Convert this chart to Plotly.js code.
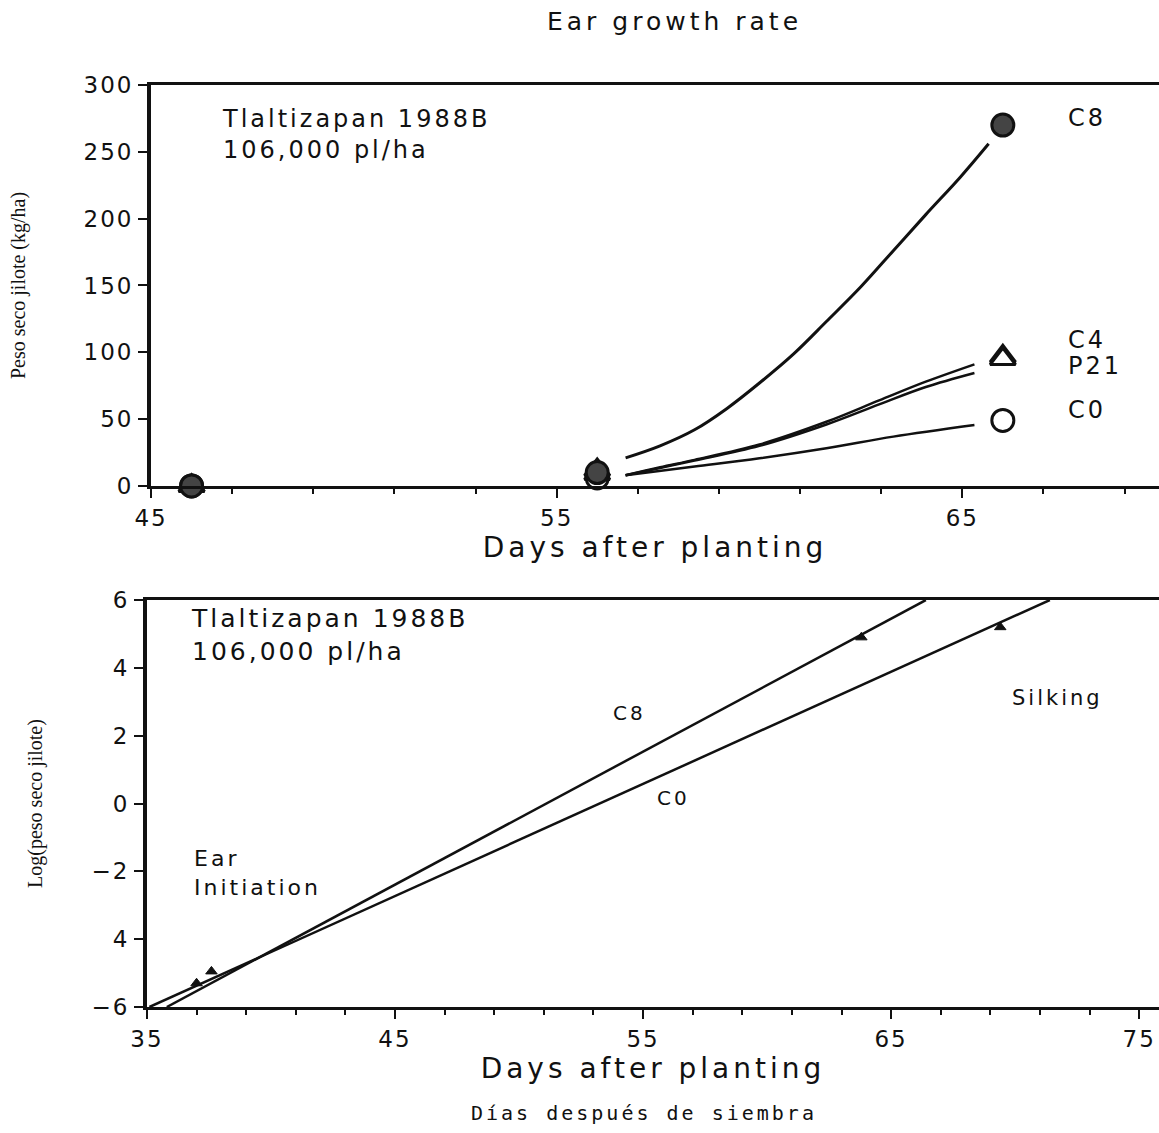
<!DOCTYPE html>
<html>
<head>
<meta charset="utf-8">
<script src="https://cdn.plot.ly/plotly-3.0.1.min.js"></script>
<style>
  html, body { margin: 0; padding: 0; background: #fff; }
  #chart { width: 1159px; height: 1133px; }
  .gtitle { letter-spacing: 4px; }
  .annotation-text { letter-spacing: 3px; }
  .xtitle, .x2title { letter-spacing: 4px; }
  .xaxislayer-above text, .yaxislayer-above text { letter-spacing: 2px; }
</style>
</head>
<body>
<div id="chart"></div>
<script>
// ---------- Top panel: ear dry weight (kg/ha) ----------
const obsDays = [46, 56, 66];
const c8Obs = [0, 10, 270];
const c4Obs = [0, 12, 97];
const p21Obs = [0, 9, 95];
const c0Obs = [0, 6, 49];

const c8FitDays = [56.7, 57.55, 58.4, 59.2, 60.0, 60.85, 61.65, 62.5, 63.3, 64.1, 64.95, 65.65];
const c8Fit = [21, 30, 42, 58, 77, 99, 123, 149, 176, 203, 231, 256];
const c4FitDays = [56.7, 57.55, 58.4, 60.0, 61.65, 62.95, 64.1, 65.3];
const c4Fit = [8, 14, 19.5, 31, 48, 64, 78, 91];
const p21Fit = [8, 13.5, 19, 30, 46, 61, 74, 84.5];
const c0FitDays = [56.7, 58.4, 60.0, 61.65, 63.3, 65.3];
const c0Fit = [8, 14.5, 20.7, 28.2, 36.9, 45.6];

// ---------- Bottom panel: log(ear dry weight) ----------
const c8LogDays = [35.8, 66.4];
const c8Log = [-6, 6];
const c0LogDays = [35.1, 71.4];
const c0Log = [-6, 6];
const c8LogObsDays = [37.0, 63.8];
const c8LogObs = [-5.3, 4.9];
const c0LogObsDays = [37.6, 69.4];
const c0LogObs = [-4.95, 5.2];

const logTickVals = [-6, -4, -2, 0, 2, 4, 6];
const logTickText = ['−6', '4', '−2', '0', '2', '4', '6'];

const FONT = 'DejaVu Sans, sans-serif';
const SERIF = 'Liberation Serif, DejaVu Serif, serif';
const MONO = 'DejaVu Sans Mono, monospace';
const INK = '#111';

function fit(x, y, xa, ya, w) {
  return {x: x, y: y, xaxis: xa, yaxis: ya, type: 'scatter', mode: 'lines',
          line: {color: INK, width: w, shape: 'spline', smoothing: 1},
          hoverinfo: 'skip', showlegend: false};
}
function pts(x, y, xa, ya, sym, size, fill, lw) {
  return {x: x, y: y, xaxis: xa, yaxis: ya, type: 'scatter', mode: 'markers',
          marker: {symbol: sym, size: size, color: fill, line: {color: INK, width: lw}},
          cliponaxis: false, showlegend: false};
}

const traces = [
  fit(c8FitDays, c8Fit, 'x', 'y', 3),
  fit(c4FitDays, c4Fit, 'x', 'y', 2.5),
  fit(c4FitDays, p21Fit, 'x', 'y', 2.5),
  fit(c0FitDays, c0Fit, 'x', 'y', 2.5),
  pts(obsDays, c0Obs, 'x', 'y', 'circle', 22, '#fff', 3),
  pts(obsDays, c4Obs, 'x', 'y', 'triangle-up', 22, '#fff', 3),
  pts(obsDays, p21Obs, 'x', 'y', 'triangle-up', 22, '#fff', 3),
  pts(obsDays, c8Obs, 'x', 'y', 'circle', 22, '#444', 3),

  fit(c8LogDays, c8Log, 'x2', 'y2', 2.5),
  fit(c0LogDays, c0Log, 'x2', 'y2', 2.5),
  pts(c8LogObsDays, c8LogObs, 'x2', 'y2', 'triangle-up', 10, INK, 1),
  pts(c0LogObsDays, c0LogObs, 'x2', 'y2', 'triangle-up', 10, INK, 1)
];

const axisCommon = {
  showline: true, linecolor: INK, showgrid: false, zeroline: false,
  ticks: 'outside', ticklen: 9, tickwidth: 2, tickcolor: INK,
  tickfont: {family: FONT, size: 23, color: INK}
};

const ann = (text, x, y, xref, yref, size, extra) => Object.assign({
  text: text, x: x, y: y, xref: xref, yref: yref, showarrow: false,
  xanchor: 'left', yanchor: 'middle', align: 'left',
  font: {family: FONT, size: size, color: INK}
}, extra || {});

const layout = {
  width: 1159, height: 1133,
  margin: {l: 0, r: 0, t: 0, b: 0},
  paper_bgcolor: '#fff', plot_bgcolor: '#fff',
  showlegend: false,
  title: {text: 'Ear growth rate', x: 0.582, xanchor: 'center', y: 0.981, yanchor: 'middle',
          font: {family: FONT, size: 25, color: INK}},
  xaxis: Object.assign({}, axisCommon, {
    domain: [0.1303, 1], range: [45, 69.85], anchor: 'y',
    tick0: 45, dtick: 10, linewidth: 3, mirror: true,
    minor: {tick0: 45, dtick: 2, ticks: 'outside', ticklen: 5, tickwidth: 2, tickcolor: INK},
    title: {text: 'Days after planting', standoff: 6, font: {family: FONT, size: 28, color: INK}}
  }),
  yaxis: Object.assign({}, axisCommon, {
    domain: [0.5711, 0.9250], range: [0, 300], anchor: 'x',
    tick0: 0, dtick: 50, linewidth: 4,
    title: {text: 'Peso seco jilote (kg/ha)', standoff: 60, font: {family: SERIF, size: 20, color: INK}}
  }),
  xaxis2: Object.assign({}, axisCommon, {
    domain: [0.1268, 1], range: [35, 75.8], anchor: 'y2',
    tick0: 35, dtick: 10, linewidth: 3, mirror: true, ticklabeloverflow: 'allow',
    minor: {tick0: 35, dtick: 2, ticks: 'outside', ticklen: 5, tickwidth: 2, tickcolor: INK},
    title: {text: 'Days after planting', standoff: 8, font: {family: FONT, size: 28, color: INK}}
  }),
  yaxis2: Object.assign({}, axisCommon, {
    domain: [0.1112, 0.4704], range: [-6, 6], anchor: 'x2',
    tickvals: logTickVals, ticktext: logTickText, linewidth: 4,
    title: {text: 'Log(peso seco jilote)', standoff: 48, font: {family: SERIF, size: 20, color: INK}}
  }),
  annotations: [
    ann('Tlaltizapan 1988B<br>106,000 pl/ha', 46.7, 263, 'x', 'y', 24),
    ann('C8', 67.55, 275, 'x', 'y', 24),
    ann('C4', 67.55, 109, 'x', 'y', 24),
    ann('P21', 67.55, 90, 'x', 'y', 24),
    ann('C0', 67.55, 57, 'x', 'y', 24),

    ann('Tlaltizapan 1988B<br>106,000 pl/ha', 36.7, 4.97, 'x2', 'y2', 25),
    ann('C8', 53.7, 2.68, 'x2', 'y2', 20),
    ann('C0', 55.5, 0.15, 'x2', 'y2', 20),
    ann('Ear<br>Initiation', 36.8, -2.06, 'x2', 'y2', 22),
    ann('Silking', 69.8, 3.1, 'x2', 'y2', 21),

    ann('Días después de siembra', 0.556, 1 - 1113 / 1133, 'paper', 'paper', 20,
        {xanchor: 'center', font: {family: MONO, size: 20, color: INK}})
  ]
};

Plotly.newPlot('chart', traces, layout, {staticPlot: true, displayModeBar: false});
</script>
</body>
</html>
